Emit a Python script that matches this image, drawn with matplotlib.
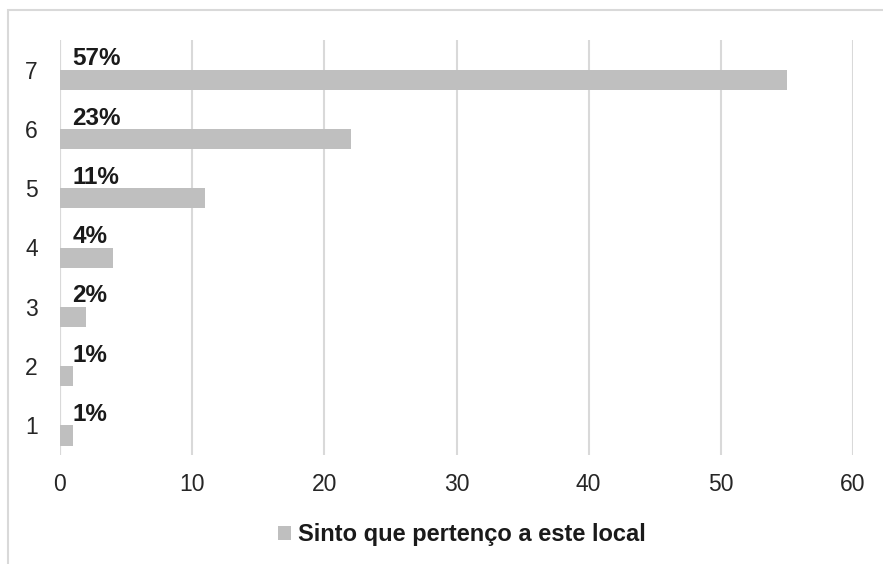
import matplotlib.pyplot as plt
import matplotlib.patches as patches
import numpy as np

plt.rcParams['font.family'] = ['Liberation Sans', 'DejaVu Sans']

# Respostas por nível da escala (contagem)
categories = ['1', '2', '3', '4', '5', '6', '7']
counts = [1, 1, 2, 4, 11, 22, 55]
series_name = 'Sinto que pertenço a este local'
x_ticks = [0, 10, 20, 30, 40, 50, 60]

bar_color = '#bfbfbf'
grid_color = '#d9d9d9'

fig = plt.figure(figsize=(8.83, 5.64), dpi=100)

# moldura clara do gráfico
frame = patches.Rectangle((8 / 883, -0.05), 1.2, 1 - 10 / 564 + 0.05,
                          transform=fig.transFigure, fill=False,
                          edgecolor=grid_color, linewidth=1.5)
fig.patches.append(frame)

ax = fig.add_axes([60 / 883, 109 / 564, 793 / 883, 415 / 564])

y = np.arange(1, len(categories) + 1)
total = sum(counts)
bar_h = 0.34
ax.barh(y - bar_h / 2, counts, height=bar_h, color=bar_color, zorder=2,
        label=series_name)

# rótulos com a percentagem de cada nível
for yi, c in zip(y, counts):
    pct = round(100 * c / total)
    ax.text(0.95, yi - 0.01, f'{pct}%', ha='left', va='bottom',
            fontsize=17.5, fontweight='bold', color='#1a1a1a', zorder=3)

ax.set_xlim(0, 60)
ax.set_ylim(0.5, 7.5)
ax.set_xticks(x_ticks)
ax.set_yticks(y)
ax.set_yticklabels(categories)
ax.xaxis.grid(True, color=grid_color, linewidth=1.5, zorder=1)
ax.axvline(0, color=grid_color, linewidth=1.5, zorder=1)
for s in ax.spines.values():
    s.set_visible(False)
ax.tick_params(axis='both', length=0, labelsize=16.5, colors='#262626')
ax.tick_params(axis='x', pad=13)
ax.tick_params(axis='y', pad=16)

leg = ax.legend(loc='center', bbox_to_anchor=(462 / 883, (564 - 535) / 564),
                bbox_transform=fig.transFigure, frameon=False,
                handlelength=0.55, handleheight=0.55, handletextpad=0.3,
                prop={'size': 17, 'weight': 'bold'})
for t in leg.get_texts():
    t.set_color('#1a1a1a')

fig.savefig('out.png', dpi=100)
